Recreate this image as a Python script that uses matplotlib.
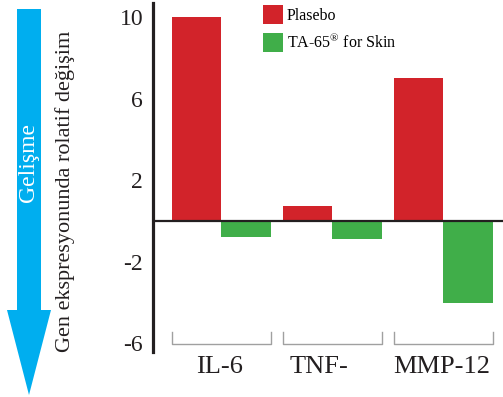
import matplotlib
matplotlib.use('Agg')
import matplotlib.pyplot as plt
from matplotlib.patches import FancyArrow

plt.rcParams['font.family'] = ['Liberation Serif', 'DejaVu Serif']
plt.rcParams['mathtext.fontset'] = 'custom'
plt.rcParams['mathtext.rm'] = 'Liberation Serif'

# data
genes = ['IL-6', 'TNF-', 'MMP-12']
placebo = [10.0, 0.75, 7.0]
ta65 = [-0.8, -0.9, -4.0]
yticks = [10, 6, 2, -2, -6]

red = '#d2232a'
green = '#40ae49'
dark = '#231f20'

fig = plt.figure(figsize=(5.03, 3.97), dpi=100)
ax = fig.add_axes([0.304, 0.1134, 0.696, 0.879])

w = 0.446
x = list(range(len(genes)))
ax.bar([i - w / 2 for i in x], placebo, width=w, color=red, label='Plasebo', zorder=2)
ax.bar([i + w / 2 for i in x], ta65, width=w, color=green,
       label=r'TA-65$^{\mathrm{®}}$ for Skin', zorder=2)
ax.axhline(0, color=dark, lw=1.6, zorder=3)

ax.set_xlim(-0.617, 2.536)
ax.set_ylim(-6.42, 10.69)
ax.set_yticks(yticks)
ax.set_yticklabels([str(t) for t in yticks])
ax.tick_params(axis='y', length=0, pad=7, labelsize=17, labelcolor=dark)
ax.set_xticks([])
for s in ['top', 'right', 'bottom']:
  ax.spines[s].set_visible(False)
ax.spines['left'].set_linewidth(2.3)
ax.spines['left'].set_color(dark)

# gray brackets under each group and the gene names
for i, g in enumerate(genes):
  x0, x1 = i - w, i + w
  ax.plot([x0, x0, x1, x1], [-5.43, -6.03, -6.03, -5.43], color='#a0a0a0', lw=1.0,
          clip_on=False, zorder=1)
  shift = -0.12 if g == 'TNF-' else -0.02
  ax.text(i + shift, -0.06, g, transform=ax.get_xaxis_transform(), ha='center', va='baseline',
          fontsize=19, color=dark)

ax.legend(loc='upper left', bbox_to_anchor=(0.5229, 0.9874), bbox_transform=fig.transFigure,
          frameon=False, fontsize=11.5, handlelength=1.25, handleheight=1.45,
          handletextpad=0.25, labelspacing=0.55, borderpad=0, borderaxespad=0)

fig.text(65 / 503, 1 - 191 / 397, 'Gen ekspresyonunda rolatif değişim', rotation=90,
         ha='center', va='center', fontsize=16, color=dark)

# blue arrow on the left, drawn in pixel units
bg = fig.add_axes([0, 0, 1, 1])
bg.set_xlim(0, 503)
bg.set_ylim(397, 0)
bg.axis('off')
bg.add_patch(FancyArrow(29, 9, 0, 386, width=24, head_width=44, head_length=85,
                        length_includes_head=True, color='#00aeef', lw=0))
bg.text(29, 163, 'Gelişme', rotation=90, ha='center', va='center', fontsize=17, color='white')

fig.savefig('out.png', dpi=100)
